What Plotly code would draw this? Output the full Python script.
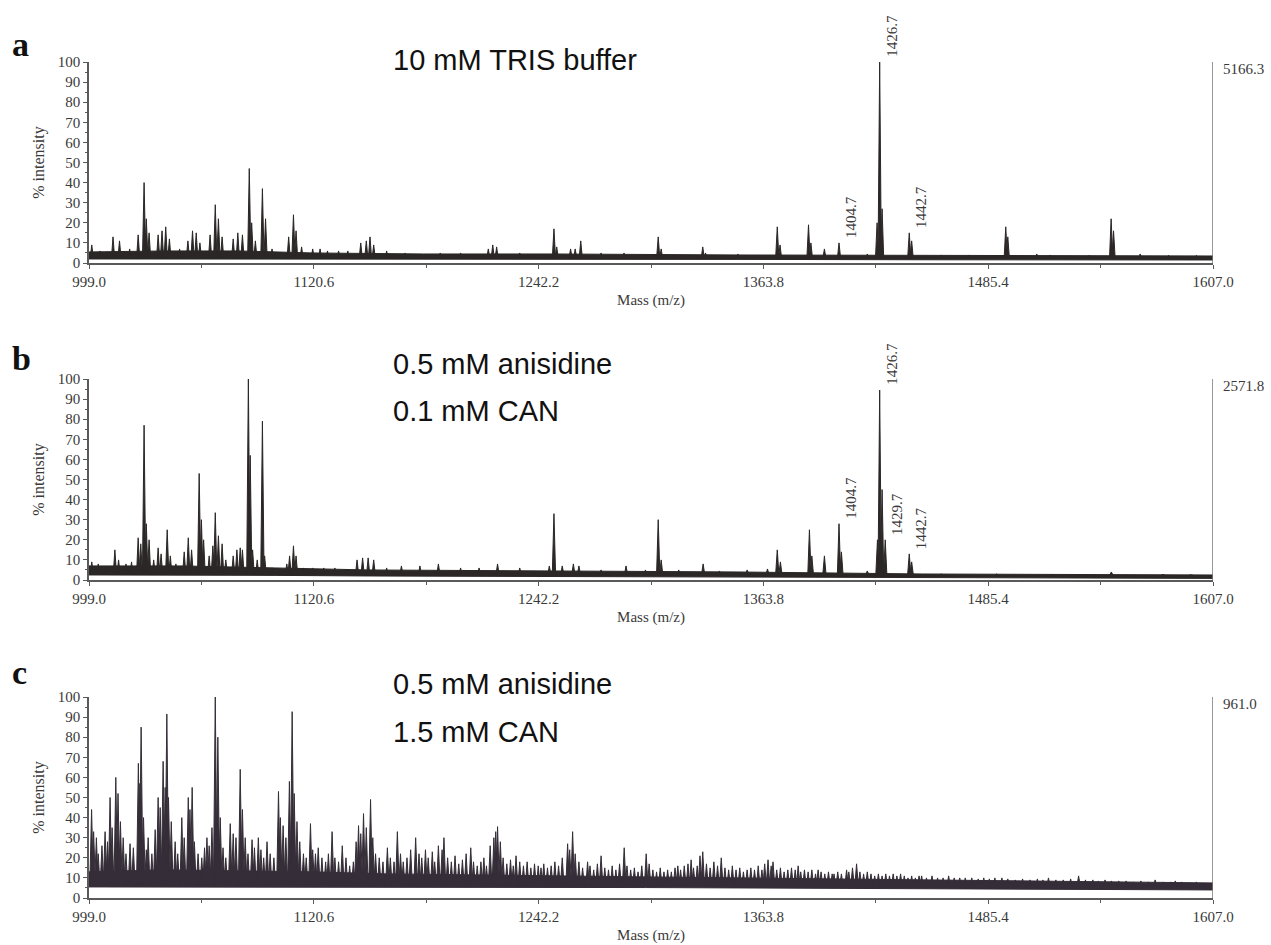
import plotly.graph_objects as go

W, H = 1271, 945

# ---------------- axis / label data ----------------
X_MIN, X_MAX = 999.0, 1607.0
x_tick_vals = [999.0, 1120.6, 1242.2, 1363.8, 1485.4, 1607.0]
x_tick_text = ["999.0", "1120.6", "1242.2", "1363.8", "1485.4", "1607.0"]
x_minor_vals = [1059.8, 1181.4, 1303.0, 1424.6, 1546.2]
y_tick_vals = [0, 10, 20, 30, 40, 50, 60, 70, 80, 90, 100]

panel_letters = ["a", "b", "c"]
panel_conditions = [["10 mM TRIS buffer"],
                    ["0.5 mM anisidine", "0.1 mM CAN"],
                    ["0.5 mM anisidine", "1.5 mM CAN"]]
panel_max_counts = ["5166.3", "2571.8", "961.0"]

# ---------------- panel a : 10 mM TRIS buffer ----------------
a_band_mz = [999, 1040, 1080, 1120, 1180, 1250, 1350, 1450, 1550, 1607]
a_band_lo = [2.0, 2.0, 2.0, 2.0, 2.0, 2.0, 1.8, 1.6, 1.5, 1.5]
a_band_hi = [5.5, 6.0, 6.0, 5.0, 4.5, 4.5, 4.0, 3.8, 3.5, 3.5]
a_peak_mz = [1000.5, 1005, 1009, 1012, 1015.5, 1021, 1025.6, 1028.8, 1030, 1031.5,
             1036.4, 1038.5, 1040.5, 1042.5, 1048, 1052.5, 1055, 1057, 1059, 1064.5,
             1067.3, 1069, 1071, 1077, 1079.5, 1082, 1085.7, 1087, 1089, 1092.8,
             1094.5, 1098, 1107, 1109.6, 1111, 1114, 1120, 1124, 1128, 1134,
             1139, 1146, 1149, 1151, 1153, 1160, 1170, 1189, 1200, 1215,
             1217.4, 1219.5, 1232, 1250.5, 1252, 1259.5, 1262, 1265, 1276, 1288.4,
             1306.9, 1308.5, 1331, 1332.5, 1350, 1371.3, 1372.8, 1388.2, 1389.5, 1396.8,
             1404.7, 1420, 1425.3, 1426.7, 1428.0, 1442.7, 1444, 1460, 1475, 1494.9,
             1496, 1511.7, 1518.8, 1540, 1551.9, 1553.2, 1567.6, 1583, 1598]
a_peak_int = [9, 6, 5, 13, 11, 7, 14, 40, 22, 15,
              14, 16, 18, 12, 7, 11, 16, 15, 10, 14,
              29, 22, 13, 12, 15, 14, 47, 20, 11, 37,
              22, 7, 13, 24, 16, 8, 7, 7, 6, 6,
              6, 10, 11, 13, 9, 6, 5, 5, 5, 7,
              9, 8, 5, 17, 8, 7, 7, 11, 5, 5,
              13, 7, 8, 5, 4.5, 18, 9, 19, 10, 7,
              10, 4.5, 20, 100, 27, 15, 11, 4, 4, 18,
              13, 4.5, 4, 3.8, 22, 16, 4.5, 3.8, 3.8]
a_labels = [1404.7, 1426.7, 1442.7]

# ---------------- panel b : 0.5 mM anisidine / 0.1 mM CAN ----------------
b_band_mz = [999, 1050, 1100, 1150, 1250, 1350, 1450, 1530, 1607]
b_band_lo = [2.5, 2.5, 2.3, 2.0, 1.8, 1.6, 1.2, 1.0, 0.8]
b_band_hi = [7.0, 7.0, 6.0, 5.0, 4.5, 4.0, 3.0, 2.7, 2.5]
b_peak_mz = [1000.5, 1004, 1008, 1013, 1015, 1019, 1022, 1025.6, 1027, 1028.8,
             1030, 1031.5, 1034, 1036.4, 1038, 1041.3, 1043, 1046, 1050.5, 1052.7,
             1054.5, 1058.6, 1059.8, 1061, 1064, 1066, 1067.3, 1069, 1071, 1073,
             1077, 1079, 1080.8, 1082, 1085.2, 1086.2, 1087.5, 1090, 1092.8, 1094,
             1098, 1106, 1107.5, 1109.6, 1111, 1115, 1120, 1126, 1132, 1138,
             1144, 1147, 1150, 1153, 1160, 1168, 1178, 1188, 1200, 1210,
             1220, 1232, 1248, 1250.5, 1255, 1261, 1264, 1276, 1289.5, 1300,
             1306.9, 1308.5, 1318, 1331.2, 1340, 1355, 1366, 1371.3, 1373, 1388.7,
             1390, 1396.8, 1404.7, 1406, 1420, 1425.5, 1426.7, 1428, 1429.7, 1442.7,
             1444, 1460, 1490, 1520, 1552, 1580, 1595]
b_peak_int = [9, 8, 6, 15, 10, 8, 9, 21, 18, 77,
              28, 20, 10, 16, 13, 25, 12, 8, 14, 21,
              15, 53, 30, 20, 12, 17, 33.5, 22, 18, 10,
              12, 15, 16, 15, 100, 62, 15, 10, 79, 12,
              6, 8, 12, 17, 12, 6, 6, 6, 6, 5,
              10, 11, 11, 10, 6, 7, 7, 8, 6, 6,
              8, 6, 7, 33, 7, 8, 7, 5, 7, 5,
              30, 10, 5, 8, 4.5, 5, 5.5, 15, 9, 25,
              12, 12, 28, 14, 4.5, 20, 94.5, 45, 20, 13,
              9, 3, 3, 2.7, 4, 2.7, 2.5]
b_labels = [1404.7, 1426.7, 1429.7, 1442.7]

# ---------------- panel c : 0.5 mM anisidine / 1.5 mM CAN ----------------
c_band_mz = [999, 1040, 1080, 1120, 1160, 1200, 1250, 1300, 1350, 1400, 1450, 1500, 1550, 1607]
c_band_lo = [5.5, 5.5, 5.5, 5.5, 5.5, 5.5, 5.3, 5.2, 5.0, 4.8, 4.6, 4.4, 4.2, 4.0]
c_band_hi = [13, 14, 13.5, 13, 12, 11.5, 11, 10.5, 10, 9.5, 9, 8.5, 8, 7.5]
c_peak_mz = [1000.4, 1001.5, 1003, 1004, 1006, 1007.7, 1009, 1010.4, 1011.5, 1013.5,
             1014.7, 1016, 1017.5, 1019, 1021.2, 1023, 1025.7, 1026.5, 1027.2, 1028.5,
             1030, 1031, 1033, 1034.8, 1036.4, 1037.5, 1039.1, 1040.2, 1041.1, 1042,
             1043.5, 1045.6, 1047, 1049.2, 1050.5, 1052.7, 1053.6, 1054.8, 1056, 1058,
             1060, 1061.5, 1062.8, 1064, 1065.5, 1067.3, 1068.7, 1070, 1071.5, 1073,
             1075.4, 1077, 1078.5, 1080.8, 1082, 1083.5, 1085, 1087.2, 1088.5, 1090.6,
             1092, 1093.5, 1095.3, 1097, 1099, 1101.5, 1102.5, 1104, 1105.5, 1107.4,
             1108.9, 1110, 1111.5, 1113, 1115, 1116.5, 1118.8, 1120, 1121.5, 1123,
             1125, 1127, 1128.5, 1130.5, 1132, 1134, 1136, 1138, 1140, 1142,
             1143.5, 1144.8, 1146, 1147.5, 1149, 1151.3, 1152.5, 1154, 1156, 1158,
             1160.4, 1162, 1164, 1165.8, 1167.5, 1169, 1171, 1173, 1175.7, 1177.5,
             1179, 1181, 1182.5, 1184.7, 1186, 1188, 1190, 1191, 1193, 1195,
             1197, 1199, 1201, 1203, 1205.5, 1207, 1209, 1211, 1212.6, 1214,
             1216, 1218, 1219, 1220, 1221.5, 1223, 1225, 1227, 1228.5, 1230,
             1232, 1234, 1236, 1238, 1240, 1242, 1243.5, 1245, 1247, 1249,
             1251, 1253, 1255, 1257.9, 1259, 1260.6, 1262, 1264, 1266, 1268.7,
             1270, 1272, 1274, 1276, 1278, 1280, 1282, 1284, 1286, 1288.5,
             1290, 1292, 1294, 1296, 1298, 1300.4, 1302, 1304, 1306, 1308,
             1310, 1312, 1314, 1316, 1317.5, 1319, 1321, 1323, 1324.7, 1326,
             1328, 1329.5, 1331, 1333, 1335, 1337, 1339, 1341, 1343, 1345,
             1347, 1349, 1351, 1353, 1355, 1357, 1359, 1361, 1363, 1364.5,
             1366.3, 1368, 1369, 1371, 1373, 1375, 1377, 1379, 1381, 1382.6,
             1384, 1386, 1388, 1390, 1392, 1393.4, 1395, 1397, 1399, 1401,
             1402, 1404, 1406, 1408.8, 1410, 1412, 1414.2, 1416, 1418, 1420,
             1422, 1424, 1426, 1428, 1430, 1432, 1434, 1436, 1438, 1440,
             1442, 1444, 1446, 1448, 1449.4, 1452, 1455, 1458, 1461, 1464,
             1467, 1470, 1473, 1476.5, 1480, 1483, 1486, 1489, 1492.8, 1496,
             1500, 1504, 1508, 1512, 1515, 1518, 1522, 1526, 1530, 1534.3,
             1538, 1542, 1545, 1548.6, 1552, 1556, 1560, 1564, 1568, 1572,
             1575.7, 1580, 1584, 1586.6, 1590, 1594, 1598, 1602, 1606]
c_peak_int = [44, 33, 30, 22, 26, 33, 28, 50, 35, 60,
              52, 38, 30, 22, 27, 25, 67, 57, 85, 40,
              24, 30, 22, 34, 50, 45, 68, 55, 91.5, 50,
              38, 28, 22, 40, 30, 50, 44, 55, 28, 22,
              20, 25, 30, 26, 35, 100, 80, 40, 25, 20,
              37, 32, 30, 64, 44, 30, 22, 29, 25, 30,
              24, 20, 28, 22, 20, 53, 40, 36, 30, 58,
              92.7, 52, 38, 28, 22, 20, 37, 24, 22, 25,
              20, 18, 22, 33, 20, 18, 26, 20, 16, 18,
              28, 36, 32, 42, 35, 49, 30, 22, 20, 18,
              25, 20, 18, 33, 22, 18, 20, 24, 30, 22,
              20, 24, 20, 23, 18, 26, 24, 30, 20, 18,
              21, 17, 19, 22, 25, 18, 16, 18, 20, 16,
              26, 30, 33, 35.5, 28, 20, 17, 19, 16, 21,
              18, 16, 18, 15, 17, 16, 15, 17, 15, 16,
              18, 16, 20, 27, 24, 33, 22, 18, 15, 18,
              16, 14, 17, 21, 15, 14, 16, 14, 17, 25,
              16, 14, 15, 13, 16, 22, 17, 14, 13, 15,
              13, 14, 13, 15, 16, 14, 16, 17, 19, 15,
              16, 21, 23, 17, 15, 18, 16, 20, 15, 14,
              16, 14, 15, 13, 14, 15, 14, 16, 14, 17,
              19, 16, 18, 14, 15, 13, 14, 15, 14, 16,
              13, 14, 13, 14, 12, 14, 13, 12, 13, 12,
              12, 13, 12, 14, 13, 15, 17, 13, 12, 13,
              12, 11, 12, 11, 12, 11, 12, 11, 12, 11,
              10, 11, 10, 11, 11, 10, 11, 10, 10, 11,
              10, 10, 10, 10, 9.5, 10, 9.5, 10, 10, 9.5,
              9, 9.5, 9, 9.5, 9, 10, 9, 9, 9.5, 11,
              9, 9, 8.5, 9, 8.5, 8.5, 8.5, 8, 8.5, 8,
              9, 8, 8, 8.5, 8, 7.5, 8, 7.5, 7.5]
c_labels = []

# ---------------- styling ----------------
SERIF = "Liberation Serif, Times New Roman, serif"
SANS = "Liberation Sans, Arial, sans-serif"
AX_COL = "#5a5a5a"
TXT_COL = "#3a3a3a"
DATA_COL = ["#2c2727", "#2c2727", "#352e38"]
PEAK_HW = [0.9, 0.9, 1.0]

x_dom = [89 / W, 1213 / W]
# pixel rows (top of 100 %, bottom at 0 %) for each panel
panel_px = [(62, 263), (379, 580), (697, 898)]
letter_centers = [44, 358, 672]
cond_centers = [[60], [364, 411], [684, 732]]

panels = [
    (a_band_mz, a_band_lo, a_band_hi, a_peak_mz, a_peak_int, a_labels),
    (b_band_mz, b_band_lo, b_band_hi, b_peak_mz, b_peak_int, b_labels),
    (c_band_mz, c_band_lo, c_band_hi, c_peak_mz, c_peak_int, c_labels),
]

fig = go.Figure()
annotations = []
shapes = []
layout_axes = {}

for i, (bmz, blo, bhi, pmz, pint, labels) in enumerate(panels):
    n = i + 1
    xa = "x" if n == 1 else f"x{n}"
    ya = "y" if n == 1 else f"y{n}"
    col = DATA_COL[i]
    base = max(blo)  # spikes start inside the noise band

    # noise band
    fig.add_trace(go.Scatter(x=bmz, y=blo, xaxis=xa, yaxis=ya, mode="lines",
                             line=dict(color=col, width=1), hoverinfo="skip"))
    fig.add_trace(go.Scatter(x=bmz, y=bhi, xaxis=xa, yaxis=ya, mode="lines",
                             fill="tonexty", fillcolor=col,
                             line=dict(color=col, width=1), hoverinfo="skip"))

    # peaks as narrow filled spikes
    hw = PEAK_HW[i]
    xs, ys = [], []
    for m, h in zip(pmz, pint):
        xs += [m - hw, m, m + hw, None]
        ys += [base, h, base, None]
    fig.add_trace(go.Scatter(x=xs, y=ys, xaxis=xa, yaxis=ya, mode="lines",
                             fill="toself", fillcolor=col,
                             line=dict(color=col, width=1), hoverinfo="skip"))

    top_px, bot_px = panel_px[i]
    y_dom = [1 - bot_px / H, 1 - top_px / H]

    layout_axes[f"xaxis{'' if n == 1 else n}"] = dict(
        domain=x_dom, range=[X_MIN, X_MAX], anchor=ya, automargin=False,
        showline=True, linecolor=AX_COL, linewidth=1.5,
        showgrid=False, zeroline=False,
        ticks="outside", ticklen=4, tickcolor=AX_COL, tickwidth=1,
        tickmode="array", tickvals=x_tick_vals, ticktext=x_tick_text,
        tickfont=dict(family=SERIF, size=15, color=TXT_COL),
        minor=dict(tickmode="array", tickvals=x_minor_vals, ticks="outside",
                   ticklen=3, tickcolor=AX_COL),
        title=dict(text="Mass (m/z)", font=dict(family=SERIF, size=15, color=TXT_COL),
                   standoff=6),
        fixedrange=True,
    )
    layout_axes[f"yaxis{'' if n == 1 else n}"] = dict(
        domain=y_dom, range=[0, 100], anchor=xa, automargin=False,
        showline=True, linecolor=AX_COL, linewidth=1.5,
        showgrid=False, zeroline=False,
        ticks="outside", ticklen=4, tickcolor=AX_COL,
        tickmode="array", tickvals=y_tick_vals,
        tickfont=dict(family=SERIF, size=15, color=TXT_COL),
        minor=dict(dtick=5, ticks="outside", ticklen=2, tickcolor=AX_COL),
        title=dict(text="% intensity", font=dict(family=SERIF, size=16, color=TXT_COL),
                   standoff=9),
        fixedrange=True,
    )

    # right-hand vertical line and absolute intensity
    shapes.append(dict(type="line", xref=xa, yref=ya, x0=X_MAX, x1=X_MAX, y0=0, y1=100,
                       line=dict(color="#777777", width=1.5)))
    annotations.append(dict(xref=xa, yref=ya, x=X_MAX, y=100, text=panel_max_counts[i],
                            showarrow=False, xanchor="left", yanchor="middle",
                            xshift=8, yshift=-7,
                            font=dict(family=SERIF, size=15, color=TXT_COL)))

    # peak labels (rotated)
    for lab in labels:
        h = max(v for m, v in zip(pmz, pint) if abs(m - lab) < 0.05)
        annotations.append(dict(xref=xa, yref=ya, x=lab, y=h, text=f"{lab:.1f}",
                                showarrow=False, textangle=-90,
                                xanchor="left", yanchor="bottom", xshift=2, yshift=3,
                                font=dict(family=SERIF, size=15, color=TXT_COL)))

    # panel letter
    annotations.append(dict(xref="paper", yref="paper", x=10 / W, y=1 - letter_centers[i] / H,
                            text=f"<b>{panel_letters[i]}</b>", showarrow=False,
                            xanchor="left", yanchor="middle",
                            font=dict(family=SERIF, size=34, color="#111111")))

    # condition text
    for txt, cy in zip(panel_conditions[i], cond_centers[i]):
        annotations.append(dict(xref="paper", yref="paper", x=391 / W, y=1 - cy / H,
                                text=txt, showarrow=False,
                                xanchor="left", yanchor="middle",
                                font=dict(family=SANS, size=29, color="#111111")))

fig.update_layout(
    width=W, height=H,
    margin=dict(l=0, r=0, t=0, b=0, autoexpand=False),
    paper_bgcolor="white", plot_bgcolor="white",
    showlegend=False,
    annotations=annotations,
    shapes=shapes,
    **layout_axes,
)

fig.write_html("out.html")
